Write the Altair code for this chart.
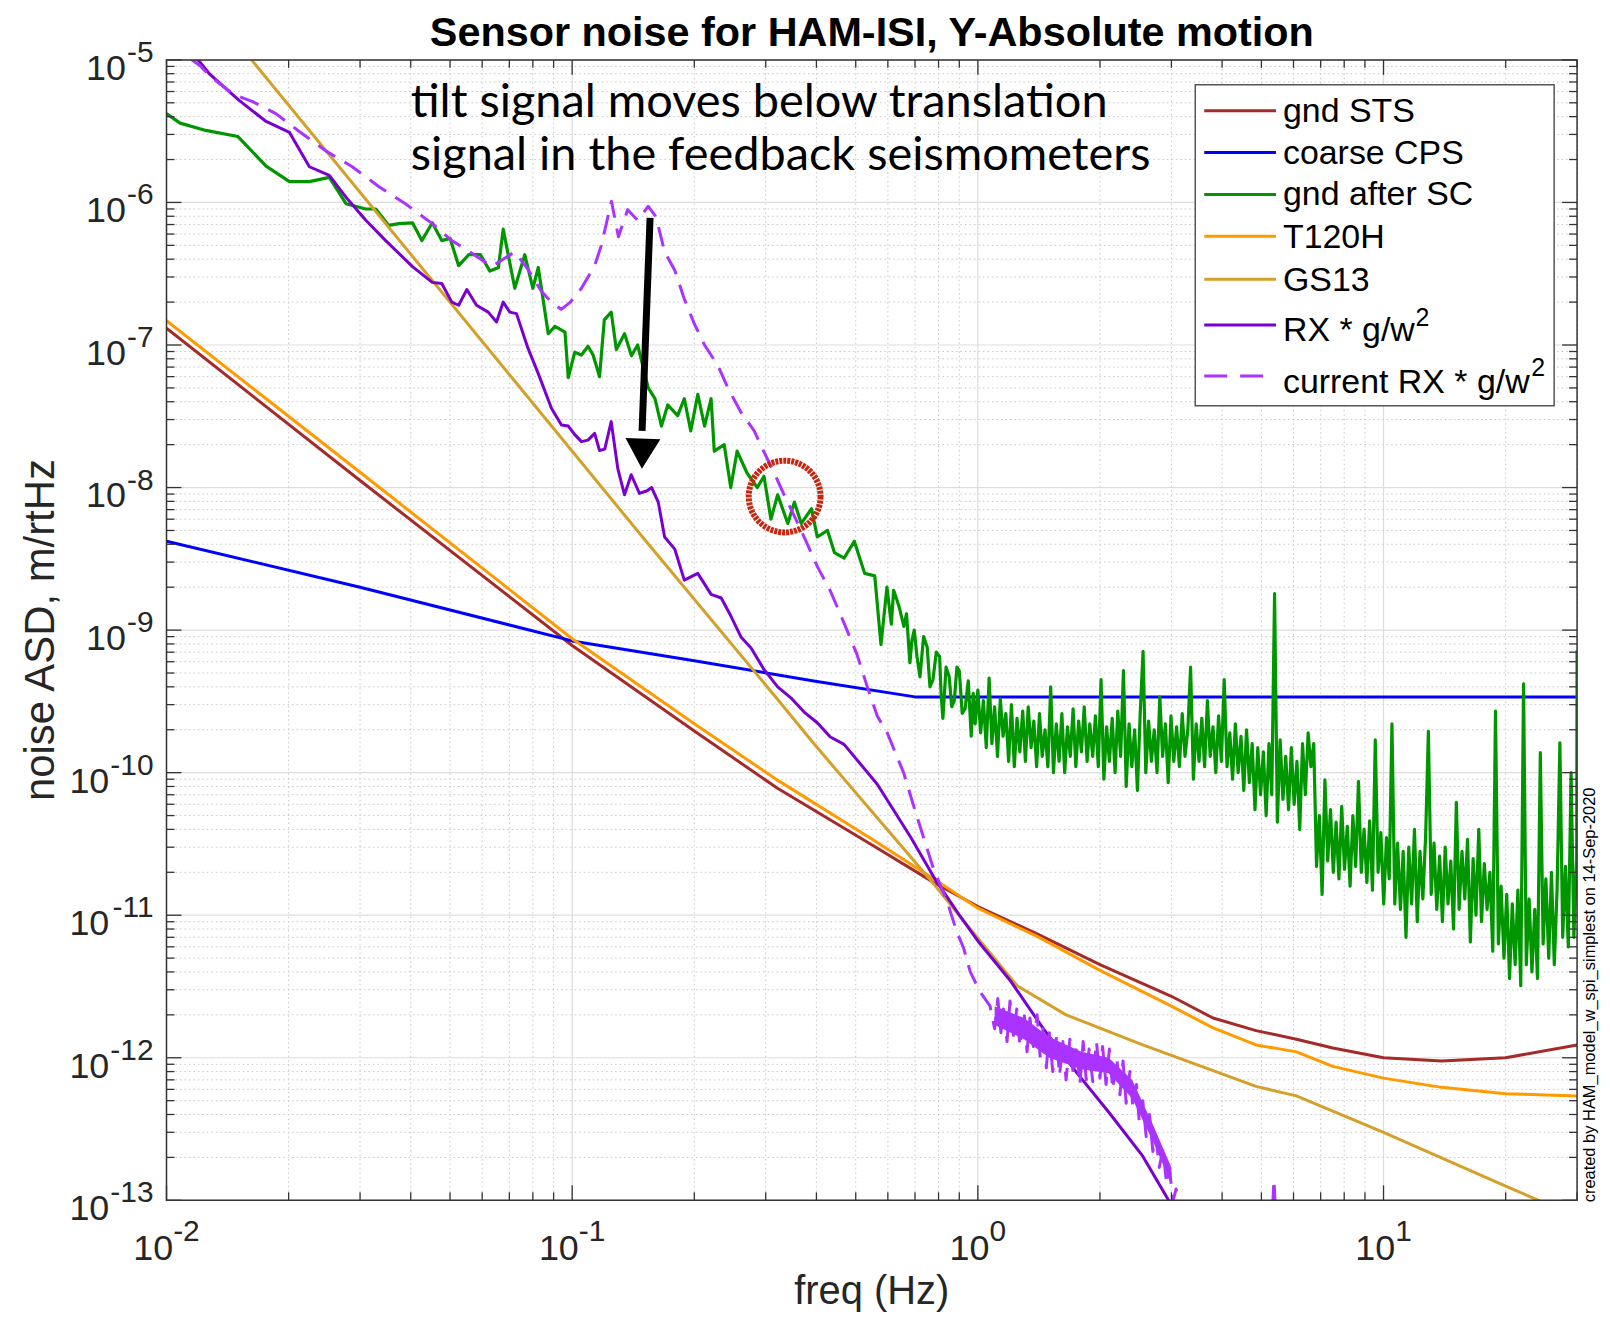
import altair as alt
import pandas as pd

# ---------------- data (freq [Hz], ASD [m/rtHz]) ----------------
gnd_sts = [(0.01, 1.31e-7), (0.03, 1.12e-8), (0.1, 7.8e-10), (0.2, 1.96e-10), (0.32, 7.8e-11),
           (0.55, 3.1e-11), (0.778, 1.7e-11), (1.0, 1.15e-11), (1.4, 7.4e-12), (2.0, 4.5e-12),
           (3.0, 2.7e-12), (3.8, 1.9e-12), (4.85, 1.55e-12), (6.1, 1.35e-12), (7.5, 1.17e-12),
           (10.0, 1.0e-12), (13.9, 9.5e-13), (20.0, 1.0e-12), (30.0, 1.23e-12)]

coarse_cps = [(0.01, 4.2e-9), (0.03, 2.0e-9), (0.1, 8.4e-10), (0.2, 6.1e-10), (0.394, 4.4e-10),
              (0.7, 3.4e-10), (30.0, 3.4e-10)]

gnd_after_sc = [
    (0.0100, 4.2e-6), (0.0108, 3.6e-6), (0.0125, 3.2e-6), (0.0150, 2.9e-6), (0.0176, 1.8e-6),
    (0.0201, 1.4e-6), (0.0225, 1.4e-6), (0.0252, 1.5e-6), (0.0277, 9.8e-7), (0.0310, 9.0e-7),
    (0.0328, 9.0e-7), (0.0353, 6.9e-7), (0.0374, 7.1e-7), (0.0404, 7.2e-7), (0.0426, 5.4e-7),
    (0.0452, 7.2e-7), (0.0477, 5.4e-7), (0.0500, 5.6e-7), (0.0525, 3.6e-7), (0.0556, 4.3e-7),
    (0.0594, 4.3e-7), (0.0627, 3.3e-7), (0.0658, 3.5e-7), (0.0676, 6.5e-7), (0.0722, 2.5e-7),
    (0.0764, 4.3e-7), (0.0800, 2.5e-7), (0.0825, 3.5e-7), (0.0873, 1.2e-7), (0.0907, 1.35e-7),
    (0.0960, 1.23e-7), (0.0978, 5.9e-8), (0.1015, 8.9e-8), (0.1054, 8.5e-8), (0.1094, 9.8e-8),
    (0.1126, 8.5e-8), (0.1168, 6.0e-8), (0.1200, 1.5e-7), (0.1248, 1.7e-7), (0.1285, 9.3e-8),
    (0.1346, 1.2e-7), (0.1400, 8.4e-8), (0.1450, 1.0e-7), (0.1540, 5.0e-8), (0.1600, 4.2e-8),
    (0.1660, 2.7e-8), (0.1720, 3.8e-8), (0.1820, 3.2e-8), (0.1890, 4.2e-8), (0.1960, 2.5e-8),
    (0.2040, 4.5e-8), (0.2120, 2.7e-8), (0.2200, 4.2e-8), (0.2240, 1.8e-8), (0.2370, 2.0e-8),
    (0.2460, 1.0e-8), (0.2550, 1.8e-8), (0.2700, 1.26e-8), (0.2860, 1.0e-8), (0.2970, 1.2e-8),
    (0.3090, 6.0e-9), (0.3210, 8.9e-9), (0.3400, 5.6e-9), (0.3530, 7.9e-9), (0.3670, 5.6e-9),
    (0.3890, 7.1e-9), (0.4020, 4.5e-9), (0.4260, 5.0e-9), (0.4430, 3.5e-9), (0.4680, 3.2e-9),
    (0.4960, 4.2e-9), (0.5260, 2.5e-9), (0.5570, 2.4e-9), (0.5770, 7.9e-10), (0.5970, 2.0e-9),
    (0.6120, 1.1e-9), (0.6200, 1.9e-9), (0.6330, 1.6e-9), (0.6420, 1.4e-9), (0.6570, 1.06e-9),
    (0.6670, 1.3e-9), (0.6800, 5.9e-10), (0.6880, 8.5e-10), (0.6970, 1.0e-9), (0.7080, 6.5e-10),
    (0.7200, 4.7e-10), (0.7350, 9.0e-10), (0.7500, 7.6e-10), (0.7620, 4.0e-10), (0.7750, 4.5e-10),
    (0.7900, 7.0e-10), (0.8050, 6.5e-10), (0.8120, 3.5e-10), (0.8200, 2.4e-10), (0.8350, 5.5e-10),
    (0.8500, 4.7e-10), (0.8620, 2.9e-10), (0.8750, 3.2e-10), (0.8880, 5.5e-10), (0.9000, 5.2e-10),
    (0.9150, 2.6e-10), (0.9300, 2.8e-10), (0.9470, 4.4e-10), (0.9630, 1.8e-10), (0.9740, 3.6e-10),
    (0.9850, 2.2e-10),
    (1.000, 3.8e-10), (1.016, 1.9e-10), (1.032, 3.2e-10), (1.049, 1.5e-10), (1.066, 4.6e-10),
    (1.083, 1.6e-10), (1.100, 2.9e-10), (1.118, 1.3e-10), (1.136, 3.3e-10), (1.154, 1.8e-10),
    (1.172, 2.6e-10), (1.191, 1.2e-10), (1.210, 3.0e-10), (1.230, 1.1e-10), (1.249, 2.4e-10),
    (1.269, 1.4e-10), (1.290, 2.7e-10), (1.310, 1.2e-10), (1.331, 2.9e-10), (1.353, 1.5e-10),
    (1.374, 2.3e-10), (1.396, 1.1e-10), (1.419, 2.6e-10), (1.441, 1.3e-10), (1.464, 2.0e-10),
    (1.488, 1.1e-10), (1.512, 4.0e-10), (1.536, 1.0e-10), (1.561, 2.2e-10), (1.586, 1.2e-10),
    (1.611, 2.6e-10), (1.637, 1.0e-10), (1.663, 2.1e-10), (1.690, 1.3e-10), (1.717, 2.8e-10),
    (1.744, 1.1e-10), (1.772, 2.3e-10), (1.800, 1.4e-10), (1.829, 2.9e-10), (1.859, 1.2e-10),
    (1.888, 2.2e-10), (1.919, 1.3e-10), (1.949, 2.5e-10), (1.981, 1.1e-10), (2.012, 4.5e-10),
    (2.045, 9.0e-11), (2.077, 2.1e-10), (2.110, 1.2e-10), (2.144, 2.4e-10), (2.179, 1.0e-10),
    (2.213, 2.7e-10), (2.249, 1.3e-10), (2.285, 5.2e-10), (2.321, 8.0e-11), (2.359, 2.2e-10),
    (2.396, 1.1e-10), (2.435, 2.0e-10), (2.474, 7.5e-11), (2.513, 2.6e-10), (2.554, 7.1e-10),
    (2.594, 1.0e-10), (2.636, 2.3e-10), (2.678, 1.2e-10), (2.721, 2.0e-10), (2.765, 1.0e-10),
    (2.809, 3.4e-10), (2.854, 1.3e-10), (2.900, 2.2e-10), (2.946, 8.5e-11), (2.993, 2.5e-10),
    (3.041, 1.2e-10), (3.090, 2.1e-10), (3.139, 1.1e-10), (3.190, 2.6e-10), (3.241, 1.3e-10),
    (3.293, 2.0e-10), (3.345, 5.5e-10), (3.399, 9.0e-11), (3.453, 2.2e-10), (3.509, 1.2e-10),
    (3.565, 2.4e-10), (3.622, 1.1e-10), (3.680, 3.2e-10), (3.739, 1.3e-10), (3.799, 2.1e-10),
    (3.860, 1.0e-10), (3.921, 2.5e-10), (3.984, 1.2e-10), (4.048, 4.5e-10), (4.113, 1.1e-10),
    (4.179, 1.9e-10), (4.245, 9.0e-11), (4.313, 2.2e-10), (4.382, 1.0e-10), (4.453, 1.8e-10),
    (4.524, 7.5e-11), (4.596, 2.0e-10), (4.670, 8.5e-11), (4.745, 1.6e-10), (4.821, 5.5e-11),
    (4.898, 1.5e-10), (4.976, 7.0e-11), (5.056, 1.4e-10), (5.137, 5.0e-11), (5.219, 1.6e-10),
    (5.303, 7.0e-11), (5.388, 1.8e-9), (5.474, 4.5e-11), (5.561, 1.7e-10), (5.650, 6.5e-11),
    (5.741, 1.3e-10), (5.833, 5.5e-11), (5.926, 1.5e-10), (6.021, 6.0e-11), (6.117, 1.2e-10),
    (6.215, 4.0e-11), (6.315, 1.6e-10), (6.416, 7.0e-11), (6.519, 1.9e-10), (6.623, 1.1e-10),
    (6.729, 1.6e-10), (6.837, 2.2e-11), (6.946, 5.0e-11), (7.057, 1.4e-11), (7.170, 8.9e-11),
    (7.285, 2.4e-11), (7.401, 5.5e-11), (7.520, 2.0e-11), (7.640, 4.5e-11), (7.763, 1.8e-11),
    (7.887, 5.8e-11), (8.013, 2.1e-11), (8.141, 4.2e-11), (8.272, 1.6e-11), (8.404, 5.0e-11),
    (8.538, 2.2e-11), (8.675, 8.7e-11), (8.814, 2.0e-11), (8.955, 4.0e-11), (9.098, 1.7e-11),
    (9.244, 4.6e-11), (9.392, 1.5e-11), (9.542, 1.7e-10), (9.695, 2.0e-11), (9.850, 3.8e-11),
    (10.01, 1.2e-11), (10.17, 3.5e-11), (10.33, 1.8e-11), (10.49, 2.2e-10), (10.66, 1.2e-11),
    (10.83, 3.2e-11), (11.01, 1.1e-11), (11.18, 2.8e-11), (11.36, 7.0e-12), (11.54, 3.0e-11),
    (11.73, 1.2e-11), (11.92, 4.0e-11), (12.11, 9.0e-12), (12.30, 2.8e-11), (12.50, 1.3e-11),
    (12.70, 3.6e-11), (12.90, 1.95e-10), (13.11, 1.4e-11), (13.32, 3.2e-11), (13.53, 1.1e-11),
    (13.75, 2.6e-11), (13.97, 9.0e-12), (14.19, 3.0e-11), (14.42, 1.2e-11), (14.65, 2.4e-11),
    (14.88, 8.0e-12), (15.12, 6.2e-11), (15.36, 1.1e-11), (15.61, 2.8e-11), (15.86, 1.3e-11),
    (16.11, 3.4e-11), (16.37, 6.5e-12), (16.63, 2.5e-11), (16.90, 1.0e-11), (17.17, 4.0e-11),
    (17.44, 9.0e-12), (17.72, 2.3e-11), (18.00, 1.1e-11), (18.29, 2.0e-11), (18.59, 5.6e-12),
    (18.88, 2.7e-10), (19.19, 6.3e-12), (19.49, 1.6e-11), (19.81, 5.0e-12), (20.12, 1.4e-11),
    (20.45, 3.6e-12), (20.77, 1.2e-11), (21.11, 4.5e-12), (21.44, 1.5e-11), (21.79, 3.2e-12),
    (22.14, 4.2e-10), (22.49, 4.5e-12), (22.85, 1.3e-11), (23.22, 4.0e-12), (23.59, 1.1e-11),
    (23.96, 3.6e-12), (24.35, 1.38e-10), (24.74, 6.3e-12), (25.13, 1.8e-11), (25.54, 5.0e-12),
    (25.94, 2.0e-11), (26.36, 4.5e-12), (26.78, 1.5e-11), (27.21, 1.62e-10), (27.65, 7.0e-12),
    (28.09, 2.2e-11), (28.54, 6.0e-12), (29.00, 1.0e-10), (29.46, 7.0e-12), (29.93, 2.5e-11),
    (30.00, 7.2e-10)]

t120h = [(0.01, 1.48e-7), (0.03, 1.28e-8), (0.1, 8.7e-10), (0.2, 2.2e-10), (0.32, 8.9e-11),
         (0.55, 3.4e-11), (0.778, 1.8e-11), (1.0, 1.12e-11), (1.4, 7.1e-12), (2.0, 4.1e-12),
         (3.0, 2.3e-12), (3.8, 1.62e-12), (4.85, 1.23e-12), (6.1, 1.1e-12), (7.5, 8.7e-13),
         (10.0, 7.2e-13), (13.9, 6.2e-13), (20.0, 5.6e-13), (30.0, 5.4e-13)]

gs13 = [(0.01, 5.2e-5), (0.0162, 1.0e-5), (0.151, 4.3e-9), (0.32, 3.3e-10), (0.394, 1.6e-10),
        (0.778, 1.66e-11), (1.0, 6.9e-12), (1.25, 3.2e-12), (1.65, 2.0e-12), (2.55, 1.23e-12),
        (4.85, 6.3e-13), (6.1, 5.4e-13), (10.0, 3.0e-13), (20.0, 1.26e-13), (30.0, 7.6e-14)]

rx_gw2 = [
    (0.0100, 1.48e-5), (0.0120, 9.9e-6), (0.0128, 7.9e-6), (0.0151, 5.2e-6), (0.0176, 3.7e-6),
    (0.0201, 3.1e-6), (0.0225, 1.78e-6), (0.0252, 1.55e-6), (0.0279, 1.06e-6), (0.0310, 7.5e-7),
    (0.0347, 5.4e-7), (0.0404, 3.55e-7), (0.0452, 2.75e-7), (0.0477, 2.7e-7), (0.0505, 2.0e-7),
    (0.0525, 1.9e-7), (0.0550, 2.45e-7), (0.0581, 1.9e-7), (0.0621, 1.7e-7), (0.0651, 1.45e-7),
    (0.0676, 2.0e-7), (0.0702, 1.7e-7), (0.0729, 1.66e-7), (0.0778, 9.5e-8), (0.0825, 6.3e-8),
    (0.0889, 3.6e-8), (0.0941, 2.75e-8), (0.0978, 2.7e-8), (0.1015, 2.35e-8), (0.1054, 2.1e-8),
    (0.1094, 2.15e-8), (0.1136, 2.4e-8), (0.1168, 1.82e-8), (0.1203, 1.86e-8), (0.1248, 2.9e-8),
    (0.1296, 1.35e-8), (0.1346, 8.9e-9), (0.1398, 1.23e-8), (0.1465, 9.1e-9), (0.1530, 9.5e-9),
    (0.1570, 1.0e-8), (0.1630, 7.9e-9), (0.1690, 4.5e-9), (0.1790, 3.7e-9), (0.1890, 2.24e-9),
    (0.2040, 2.5e-9), (0.2200, 1.78e-9), (0.2330, 1.68e-9), (0.2460, 1.26e-9), (0.2610, 8.9e-10),
    (0.2760, 7.5e-10), (0.2970, 5.3e-10), (0.3210, 4.0e-10), (0.3460, 3.35e-10), (0.3730, 2.66e-10),
    (0.4020, 2.24e-10), (0.4330, 1.78e-10), (0.4680, 1.58e-10), (0.5650, 8.3e-11), (0.6820, 3.55e-11),
    (0.7780, 1.86e-11), (0.9050, 9.8e-12), (1.0000, 6.6e-12), (1.2000, 3.5e-12), (1.4500, 1.6e-12),
    (1.7500, 7.9e-13), (2.1100, 4.1e-13), (2.5500, 2.04e-13), (2.9400, 1.02e-13), (3.2000, 6.3e-14)]

current_rx_gw2 = [
    (0.0100, 1.35e-5), (0.0121, 9.1e-6), (0.0128, 7.7e-6), (0.0146, 5.75e-6), (0.0163, 5.1e-6),
    (0.0186, 4.2e-6), (0.0212, 3.16e-6), (0.0247, 2.3e-6), (0.0287, 1.78e-6), (0.0334, 1.29e-6),
    (0.0388, 9.8e-7), (0.0452, 7.1e-7), (0.0505, 5.4e-7), (0.0566, 4.4e-7), (0.0633, 3.55e-7),
    (0.0722, 4.5e-7), (0.0778, 3.4e-7), (0.0838, 2.4e-7), (0.0896, 1.95e-7), (0.0940, 1.78e-7),
    (0.0990, 2.0e-7), (0.1054, 2.5e-7), (0.1136, 3.6e-7), (0.1180, 5.0e-7), (0.1250, 1.02e-6),
    (0.1300, 5.75e-7), (0.1370, 8.9e-7), (0.1450, 7.5e-7), (0.1540, 9.4e-7), (0.1610, 7.9e-7),
    (0.1690, 4.5e-7), (0.1790, 3.35e-7), (0.1890, 2.1e-7), (0.2000, 1.41e-7), (0.2120, 1.0e-7),
    (0.2290, 7.1e-8), (0.2420, 5.0e-8), (0.2610, 3.35e-8), (0.2810, 2.5e-8), (0.2970, 1.78e-8),
    (0.3150, 1.26e-8), (0.3330, 8.9e-9), (0.3460, 7.1e-9), (0.3730, 4.5e-9), (0.4020, 2.8e-9),
    (0.4330, 1.88e-9), (0.4680, 1.12e-9), (0.5040, 6.7e-10), (0.5340, 4.0e-10), (0.5650, 2.5e-10),
    (0.5980, 1.9e-10), (0.6560, 1.0e-10), (0.7080, 4.9e-11), (0.7780, 2.1e-11), (0.8390, 1.26e-11),
    (0.8880, 7.6e-12), (0.9220, 5.9e-12), (0.9580, 4.0e-12), (1.0130, 2.9e-12), (1.0720, 2.3e-12),
    (1.100, 1.6e-12), (1.120, 2.6e-12), (1.140, 1.5e-12), (1.156, 2.2e-12), (1.180, 1.3e-12),
    (1.200, 2.5e-12), (1.225, 1.4e-12), (1.247, 2.2e-12), (1.270, 1.2e-12), (1.300, 2.1e-12),
    (1.322, 1.1e-12), (1.344, 1.9e-12), (1.370, 1.2e-12), (1.400, 2.0e-12), (1.425, 1.0e-12),
    (1.450, 1.7e-12), (1.475, 8.5e-13), (1.500, 1.5e-12), (1.530, 8.0e-13), (1.563, 1.4e-12),
    (1.590, 7.5e-13), (1.620, 1.3e-12), (1.650, 7.0e-13), (1.686, 1.35e-12), (1.720, 7.5e-13),
    (1.750, 1.2e-12), (1.785, 6.5e-13), (1.818, 1.3e-12), (1.850, 7.0e-13), (1.880, 1.15e-12),
    (1.920, 6.8e-13), (1.960, 1.3e-12), (2.000, 7.2e-13), (2.030, 1.2e-12), (2.070, 6.5e-13),
    (2.110, 1.15e-12), (2.150, 6.0e-13), (2.200, 1.0e-12), (2.240, 5.5e-13), (2.280, 9.5e-13),
    (2.320, 4.8e-13), (2.370, 8.0e-13), (2.410, 4.5e-13), (2.460, 6.5e-13), (2.500, 3.5e-13),
    (2.550, 5.0e-13), (2.600, 2.8e-13), (2.650, 4.0e-13), (2.700, 2.2e-13), (2.750, 2.8e-13),
    (2.800, 1.7e-13), (2.860, 2.3e-13), (2.920, 1.3e-13), (2.970, 1.6e-13), (3.030, 1.0e-13),
    (3.080, 1.2e-13), (3.170, 8.9e-14), (3.400, 4.0e-14), (5.250, 4.0e-14), (5.370, 1.4e-13),
    (5.480, 4.0e-14)]

# dense noise core of "current RX * g/w^2" between 1.1 and 3 Hz: (freq, lower, upper)
current_rx_band = [
    (1.10, 1.7e-12, 2.3e-12), (1.30, 1.35e-12, 1.9e-12), (1.50, 1.0e-12, 1.4e-12),
    (1.80, 8.3e-13, 1.1e-12), (2.10, 7.8e-13, 1.0e-12), (2.40, 5.2e-13, 7.0e-13),
    (2.70, 2.6e-13, 3.4e-13), (3.00, 1.3e-13, 1.7e-13)]

series_names = ["gnd STS", "coarse CPS", "gnd after SC", "T120H", "GS13",
                "RX * g/w", "current RX * g/w"]
series_data = [gnd_sts, coarse_cps, gnd_after_sc, t120h, gs13, rx_gw2, current_rx_gw2]
series_bands = {"current RX * g/w": current_rx_band}

x_major_ticks = [0.01, 0.1, 1, 10]
x_major_exps = ["-2", "-1", "0", "1"]
y_major_ticks = [1e-5, 1e-6, 1e-7, 1e-8, 1e-9, 1e-10, 1e-11, 1e-12, 1e-13]
y_major_exps = ["-5", "-6", "-7", "-8", "-9", "-10", "-11", "-12", "-13"]
minor_mults = [2, 3, 4, 5, 6, 7, 8, 9]
x_minor_ticks = [m * d for d in (0.01, 0.1, 1.0) for m in minor_mults] + [20, 30]
y_minor_ticks = [m * 10.0 ** e for e in range(-13, -5) for m in minor_mults]

title_text = "Sensor noise for HAM-ISI, Y-Absolute motion"
x_title = "freq (Hz)"
y_title = "noise ASD, m/rtHz"
credit_text = "created by HAM_model_w_spi_simplest on 14-Sep-2020"
annot_lines = ["tilt signal moves below translation", "signal in the feedback seismometers"]
annot_freq = [0.04, 0.04]
annot_asd = [4.0e-6, 1.7e-6]
arrow_shaft = {"f0": [0.1556], "v0": [7.8e-7], "f1": [0.1487], "v1": [2.5e-8]}
arrow_head = {"f": [0.149], "v": [1.73e-8]}
circle_mark = {"f": [0.334], "v": [8.65e-9]}

# ---------------- styles / layout ----------------
series_colors = ["#A52A2A", "#0000FF", "#009600", "#FF9A00", "#D4A02A", "#7A00D0", "#AA33FF"]
series_widths = [3, 3, 3.2, 3, 3, 3, 3]
FONT = "Liberation Sans"
TXT = "#262626"
AX = "#333333"
W, H = 1415, 1144

xs = alt.Scale(type="log", domain=[0.01, 30], nice=False)
ys = alt.Scale(type="log", domain=[1e-13, 1e-5], nice=False)


def X(f):
    return alt.X(f"{f}:Q", scale=xs, axis=None)


def Y(f):
    return alt.Y(f"{f}:Q", scale=ys, axis=None)


one = pd.DataFrame({"k": [0]})
layers = []

# grid
layers.append(alt.Chart(pd.DataFrame({"v": x_minor_ticks})).mark_rule(
    color="#c8c8c8", strokeWidth=1, strokeDash=[1.5, 3]).encode(x=X("v"), y=alt.value(0), y2=alt.value(H)))
layers.append(alt.Chart(pd.DataFrame({"v": y_minor_ticks})).mark_rule(
    color="#c8c8c8", strokeWidth=1, strokeDash=[1.5, 3]).encode(y=Y("v"), x=alt.value(0), x2=alt.value(W)))
layers.append(alt.Chart(pd.DataFrame({"v": x_major_ticks})).mark_rule(
    color="#dddddd", strokeWidth=1.2).encode(x=X("v"), y=alt.value(0), y2=alt.value(H)))
layers.append(alt.Chart(pd.DataFrame({"v": y_major_ticks})).mark_rule(
    color="#dddddd", strokeWidth=1.2).encode(y=Y("v"), x=alt.value(0), x2=alt.value(W)))

# data series
for name, data, color, sw in zip(series_names, series_data, series_colors, series_widths):
    if name in series_bands:
        b = pd.DataFrame(series_bands[name], columns=["freq", "lo", "hi"])
        layers.append(alt.Chart(b).mark_area(color=color, opacity=1, clip=True).encode(
            x=X("freq"), y=Y("lo"), y2="hi:Q"))
    d = pd.DataFrame(data, columns=["freq", "asd"])
    kw = dict(color=color, strokeWidth=sw, clip=True, strokeJoin="round")
    if name.startswith("current"):
        kw["strokeDash"] = [20, 11]
    layers.append(alt.Chart(d).mark_line(**kw).encode(x=X("freq"), y=Y("asd")))

# annotation: arrow, circle, text
layers.append(alt.Chart(pd.DataFrame(arrow_shaft)).mark_rule(color="black", strokeWidth=7).encode(
    x=X("f0"), y=Y("v0"), x2="f1:Q", y2="v1:Q"))
layers.append(alt.Chart(pd.DataFrame(arrow_head)).mark_point(
    shape="triangle-down", size=1225, filled=True, color="black", opacity=1, angle=2).encode(x=X("f"), y=Y("v")))
layers.append(alt.Chart(pd.DataFrame(circle_mark)).mark_point(
    shape="circle", size=5184, filled=False, color="#C8260F", opacity=1, strokeWidth=6,
    strokeDash=[3, 1]).encode(x=X("f"), y=Y("v")))
layers.append(alt.Chart(pd.DataFrame({"f": annot_freq, "v": annot_asd, "t": annot_lines})).mark_text(
    align="left", baseline="alphabetic", font="Lato", fontSize=47, color="black").encode(
    x=X("f"), y=Y("v"), text="t:N"))

# inside ticks
for vals, ln in ((x_major_ticks, 15), (x_minor_ticks, 8)):
    d = pd.DataFrame({"v": vals})
    layers.append(alt.Chart(d).mark_rule(color=AX, strokeWidth=1.3).encode(
        x=X("v"), y=alt.value(H), y2=alt.value(H - ln)))
    layers.append(alt.Chart(d).mark_rule(color=AX, strokeWidth=1.3).encode(
        x=X("v"), y=alt.value(0), y2=alt.value(ln)))
for vals, ln in ((y_major_ticks, 15), (y_minor_ticks, 8)):
    d = pd.DataFrame({"v": vals})
    layers.append(alt.Chart(d).mark_rule(color=AX, strokeWidth=1.3).encode(
        y=Y("v"), x=alt.value(0), x2=alt.value(ln)))
    layers.append(alt.Chart(d).mark_rule(color=AX, strokeWidth=1.3).encode(
        y=Y("v"), x=alt.value(W), x2=alt.value(W - ln)))

# box
layers.append(alt.Chart(one).mark_rect(fillOpacity=0, stroke=AX, strokeWidth=1.5).encode(
    x=alt.value(0), x2=alt.value(W), y=alt.value(0), y2=alt.value(H)))

# tick labels  (10 + superscript exponent)
ylab = pd.DataFrame({"v": y_major_ticks, "e": y_major_exps})
layers.append(alt.Chart(ylab).mark_text(align="right", baseline="alphabetic", font=FONT, fontSize=30,
                                        color=TXT, dy=2).encode(x=alt.value(-13), y=Y("v"), text="e:N"))
for sub, w in ((ylab[ylab.e.str.len() == 2], 26.7), (ylab[ylab.e.str.len() == 3], 43.4)):
    layers.append(alt.Chart(sub).mark_text(align="right", baseline="alphabetic", font=FONT, fontSize=36,
                                           color=TXT, dy=20, text="10").encode(
        x=alt.value(-13 - w - 1), y=Y("v")))
xlab = pd.DataFrame({"v": x_major_ticks, "e": x_major_exps})
layers.append(alt.Chart(xlab).mark_text(align="center", baseline="alphabetic", font=FONT, fontSize=30,
                                        color=TXT, dx=20).encode(x=X("v"), y=alt.value(H + 41), text="e:N"))
for sub, w in ((xlab[xlab.e.str.startswith("-")], 26.7), (xlab[~xlab.e.str.startswith("-")], 16.7)):
    layers.append(alt.Chart(sub).mark_text(align="right", baseline="alphabetic", font=FONT, fontSize=36,
                                           color=TXT, dx=20 - w / 2, text="10").encode(
        x=X("v"), y=alt.value(H + 60)))

# titles
layers.append(alt.Chart(one).mark_text(align="center", baseline="alphabetic", font=FONT, fontSize=41.5,
                                       fontWeight="bold", color="black", text=title_text).encode(
    x=alt.value(W / 2), y=alt.value(-14)))
layers.append(alt.Chart(one).mark_text(align="center", baseline="alphabetic", font=FONT, fontSize=40,
                                       color=TXT, text=x_title).encode(x=alt.value(W / 2), y=alt.value(H + 104)))
layers.append(alt.Chart(one).mark_text(align="center", baseline="alphabetic", font=FONT, fontSize=42,
                                       color=TXT, angle=270, text=y_title).encode(
    x=alt.value(-113), y=alt.value(H / 2)))
layers.append(alt.Chart(one).mark_text(align="left", baseline="middle", font=FONT, fontSize=16.5,
                                       color="black", angle=270, text=credit_text).encode(
    x=alt.value(W + 13), y=alt.value(H + 2)))

# legend (drawn)
LEG_BOX = (1032, 1392, 25, 347)
LEG_LINE_X = (1041, 1113)
LEG_TEXT_X = 1120
LEG_LINE_Y = [51, 93, 135, 177, 220, 266, 317]
LEG_TEXT_Y = [62, 104, 146, 189, 232, 282, 334]
LEG_SUP = [(1253, 267), (1369, 317)]
layers.append(alt.Chart(one).mark_rect(fill="white", stroke="#555555", strokeWidth=1.5).encode(
    x=alt.value(LEG_BOX[0]), x2=alt.value(LEG_BOX[1]), y=alt.value(LEG_BOX[2]), y2=alt.value(LEG_BOX[3])))
for i, (name, color) in enumerate(zip(series_names, series_colors)):
    kw = dict(color=color, strokeWidth=3)
    if name.startswith("current"):
        kw["strokeDash"] = [23, 13]
    layers.append(alt.Chart(one).mark_rule(**kw).encode(
        x=alt.value(LEG_LINE_X[0]), x2=alt.value(LEG_LINE_X[1]), y=alt.value(LEG_LINE_Y[i])))
    layers.append(alt.Chart(one).mark_text(align="left", baseline="alphabetic", font=FONT, fontSize=34,
                                           color="black", text=name).encode(
        x=alt.value(LEG_TEXT_X), y=alt.value(LEG_TEXT_Y[i])))
for sx, sy in LEG_SUP:
    layers.append(alt.Chart(one).mark_text(align="left", baseline="alphabetic", font=FONT, fontSize=25,
                                           color="black", text="2").encode(x=alt.value(sx), y=alt.value(sy)))

chart = alt.layer(*layers).properties(
    width=W, height=H,
    padding={"left": 159, "top": 50, "right": 25, "bottom": 118},
    autosize=alt.AutoSizeParams(type="none"),
    background="white",
).configure_view(stroke=None)

chart.save("out.html", embed_options={"renderer": "svg", "actions": False})
